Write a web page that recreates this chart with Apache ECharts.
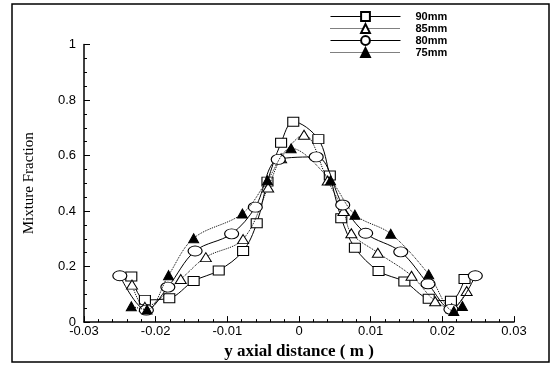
<!DOCTYPE html>
<html>
<head>
<meta charset="utf-8">
<script src="https://cdn.jsdelivr.net/npm/echarts@6/dist/echarts.min.js"></script>
<style>html,body{margin:0;padding:0;background:#fff}#c{width:553px;height:365px}</style>
</head>
<body>
<div id="c"></div>
<script>
const seriesNames = ["90mm", "85mm", "80mm", "75mm"];
const x90 = [-0.0234, -0.0215, -0.0181, -0.0147, -0.0112, -0.0078, -0.0059, -0.0044, -0.0025, -0.0008, 0.0027, 0.0043, 0.0059, 0.0078, 0.0111, 0.0147, 0.0181, 0.0212, 0.0231];
const y90 = [0.164, 0.080, 0.086, 0.148, 0.186, 0.256, 0.356, 0.506, 0.646, 0.722, 0.659, 0.528, 0.374, 0.268, 0.184, 0.146, 0.084, 0.077, 0.155];
const x85 = [-0.0233, -0.0215, -0.0165, -0.0130, -0.0078, -0.0043, -0.0025, 0.0007, 0.0040, 0.0062, 0.0073, 0.0110, 0.0157, 0.0190, 0.0213, 0.0234];
const y85 = [0.135, 0.055, 0.155, 0.234, 0.299, 0.485, 0.590, 0.675, 0.510, 0.400, 0.320, 0.250, 0.167, 0.075, 0.050, 0.112];
const x80 = [-0.0250, -0.0213, -0.0183, -0.0145, -0.0094, -0.0061, -0.0029, 0.0024, 0.0061, 0.0093, 0.0142, 0.0180, 0.0212, 0.0246];
const y80 = [0.167, 0.043, 0.126, 0.256, 0.318, 0.414, 0.586, 0.595, 0.422, 0.320, 0.253, 0.138, 0.046, 0.167];
const x75 = [-0.0234, -0.0212, -0.0182, -0.0147, -0.0079, -0.0044, -0.0011, 0.0044, 0.0078, 0.0128, 0.0181, 0.0216, 0.0228];
const y75 = [0.057, 0.045, 0.169, 0.302, 0.391, 0.511, 0.626, 0.511, 0.387, 0.318, 0.172, 0.040, 0.058];
const xTicks = [-0.03, -0.02, -0.01, 0, 0.01, 0.02, 0.03];
const yTicks = [0, 0.2, 0.4, 0.6, 0.8, 1];

const pairs = (xs, ys) => xs.map((x, i) => [x, ys[i]]);
const xsAll = [x90, x85, x80, x75];
const ysAll = [y90, y85, y80, y75];
const symbols = ['rect', 'triangle', 'circle', 'triangle'];
const sizes = [[11, 9], [11, 9], [14, 10], [10, 9]];
const fills = ['#fff', '#fff', '#fff', '#000'];
const ltypes = ['solid', 'dotted', 'solid', 'dotted'];

const chart = echarts.init(document.getElementById('c'));
chart.setOption({
  animation: false,
  backgroundColor: '#fff',
  grid: { left: 84, right: 39, top: 44.5, bottom: 29, containLabel: false },
  legend: {
    orient: 'vertical', left: 325, top: 6,
    itemWidth: 70, itemHeight: 11, itemGap: 1,
    textStyle: { fontFamily: 'Liberation Sans', fontWeight: 'bold', fontSize: 11, color: '#000', padding: [0, 0, 0, 10] },
    data: seriesNames.map((n, i) => ({ name: n, lineStyle: { width: 1, type: ltypes[i], color: '#000' } }))
  },
  xAxis: {
    type: 'value', min: -0.03, max: 0.03, interval: 0.01,
    name: 'y axial distance ( m )', nameLocation: 'middle', nameGap: 14,
    nameTextStyle: { fontFamily: 'Liberation Serif', fontWeight: 'bold', fontSize: 17, color: '#000' },
    axisLine: { onZero: false, lineStyle: { color: '#000', width: 1.5 } },
    axisTick: { inside: true, length: 6, lineStyle: { color: '#000' } },
    minorTick: { show: true, splitNumber: 5, length: 3, lineStyle: { color: '#000' } },
    splitLine: { show: false },
    axisLabel: { fontFamily: 'Liberation Sans', fontSize: 13, color: '#000', margin: 3,
      formatter: v => { const t = xTicks.find(k => Math.abs(k - v) < 1e-9); return t === undefined ? '' : String(t); } }
  },
  yAxis: {
    type: 'value', min: 0, max: 1, interval: 0.2,
    name: 'Mixture Fraction', nameLocation: 'middle', nameGap: 47, nameRotate: 90,
    nameTextStyle: { fontFamily: 'Liberation Serif', fontSize: 15, color: '#000' },
    axisLine: { show: true, onZero: false, lineStyle: { color: '#000', width: 1.5 } },
    axisTick: { show: true, inside: true, length: 6, lineStyle: { color: '#000' } },
    minorTick: { show: true, splitNumber: 4, length: 3, lineStyle: { color: '#000' } },
    splitLine: { show: false },
    axisLabel: { fontFamily: 'Liberation Sans', fontSize: 13, color: '#000', margin: 8,
      formatter: v => { const t = yTicks.find(k => Math.abs(k - v) < 1e-9); return t === undefined ? '' : String(t); } }
  },
  graphic: [{
    type: 'rect', shape: { x: 12, y: 4, width: 537, height: 358 },
    style: { fill: 'none', stroke: '#000', lineWidth: 1.5 }, silent: true
  }],
  series: seriesNames.map((n, i) => ({
    name: n, type: 'line', smooth: 0.35,
    data: pairs(xsAll[i], ysAll[i]),
    symbol: symbols[i], symbolSize: sizes[i], showAllSymbol: true,
    lineStyle: { color: '#000', width: 1, type: ltypes[i] },
    itemStyle: { color: fills[i], borderColor: '#000', borderWidth: 1 },
    z: 2 + i
  }))
});
</script>
</body>
</html>
